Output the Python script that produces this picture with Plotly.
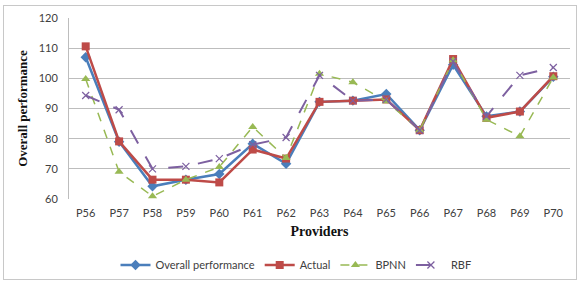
import plotly.graph_objects as go

providers = ["P56", "P57", "P58", "P59", "P60", "P61", "P62", "P63", "P64", "P65", "P66", "P67", "P68", "P69", "P70"]
overall = [107, 79, 64.2, 66.4, 68.3, 78.3, 71.7, 92.2, 92.6, 94.8, 82.8, 104.5, 87.4, 89, 100.5]
actual = [110.6, 79.1, 66.4, 66.4, 65.5, 76.4, 73.4, 92.2, 92.6, 93, 82.8, 106.4, 86.9, 89, 100.7]
bpnn = [99.8, 69, 60.9, 66.4, 70.6, 83.9, 73.6, 101.5, 98.7, 92.4, 82.8, 106, 86.3, 80.8, 100.3]
rbf = [94.3, 89.6, 70, 70.8, 73.4, 78, 80.4, 101, 92.6, 93, 82.8, 105.6, 87.4, 101, 103.6]

fig = go.Figure()
fig.add_trace(go.Scatter(x=providers, y=overall, name="Overall performance", mode="lines+markers",
                         line=dict(color="#4a7ebb", width=2.5),
                         marker=dict(symbol="diamond", size=8, color="#4a7ebb")))
fig.add_trace(go.Scatter(x=providers, y=actual, name="Actual", mode="lines+markers",
                         line=dict(color="#be4b48", width=2.5),
                         marker=dict(symbol="square", size=8, color="#be4b48")))
fig.add_trace(go.Scatter(x=providers, y=bpnn, name="BPNN", mode="lines+markers",
                         line=dict(color="#98b954", width=1.5, dash="dash"),
                         marker=dict(symbol="triangle-up", size=8, color="#98b954")))
fig.add_trace(go.Scatter(x=providers, y=rbf, name="RBF", mode="lines+markers",
                         line=dict(color="#7d60a0", width=2, dash="longdash"),
                         marker=dict(symbol="x-thin", size=7, color="#7d60a0",
                                     line=dict(color="#7d60a0", width=1.2))))

W, H = 580, 282
L, R, T, B = 69, 10, 18, 83
pw = W - L - R
ph = H - T - B

fig.update_layout(
    width=W, height=H,
    margin=dict(l=L, r=R, t=T, b=B, autoexpand=False),
    paper_bgcolor="white", plot_bgcolor="white",
    font=dict(family="Lato, Open Sans, sans-serif", size=11, color="#404040"),
    showlegend=True,
    legend=dict(orientation="h", x=(296 - L) / pw, xanchor="center",
                y=(H - B - 265) / ph, yanchor="middle",
                font=dict(size=11, color="#404040"), tracegroupgap=0),
    xaxis=dict(
        title=dict(text="<b>Providers</b>", font=dict(family="Liberation Serif, serif", size=14, color="#111111"),
                   standoff=8),
        showgrid=False, showline=False, ticks="", tickfont=dict(size=11, color="#404040"),
        ticklabelstandoff=6,
        range=[-0.5, 14.5], automargin=False,
    ),
    yaxis=dict(
        title=dict(text="<b>Overall performance</b>", font=dict(family="Liberation Serif, serif", size=13, color="#111111"),
                   standoff=8),
        range=[60, 120], dtick=10, showgrid=True, gridcolor="#bdbdbd", gridwidth=1,
        showline=True, linecolor="#bdbdbd", linewidth=1, ticks="", zeroline=False,
        ticklabelstandoff=8,
        tickfont=dict(size=11, color="#404040"), automargin=False,
    ),
)

# outer chart frame (light gray), drawn as an empty bordered annotation
fig.add_annotation(xref="paper", yref="paper", x=(290 - L) / pw, y=(H - B - 142.5) / ph,
                   xanchor="center", yanchor="middle", text=" ", showarrow=False,
                   width=572, height=273, bordercolor="#c8c8c8", borderwidth=1, borderpad=0)

fig.write_html("out.html", config={"displayModeBar": False},
               post_script="document.body.style.margin='0';")
